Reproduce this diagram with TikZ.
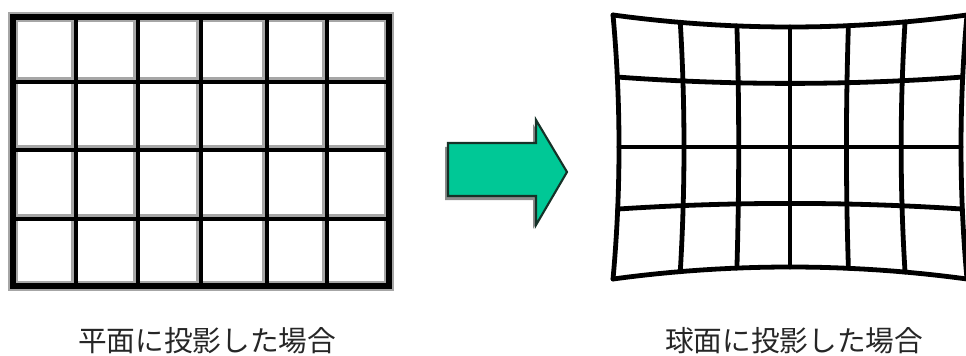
\documentclass[tikz,border=0pt]{standalone}
\usepackage{fontspec}
\newfontfamily\cjk{Noto Sans CJK JP}
\definecolor{arrowfill}{HTML}{00C896}
\definecolor{arrowedge}{HTML}{163228}
\begin{document}
\begin{tikzpicture}[x=0.75pt,y=-0.75pt,
  fhalo/.style={draw=black!35,line width=7pt,line join=miter},
  frame/.style={draw=black,line width=4.6pt,line join=miter},
  lhalo/.style={draw=black!35,line width=5pt,line cap=rect},
  lline/.style={draw=black,line width=3.4pt,line cap=rect},
  rline/.style={draw=black,line width=3.6pt,line cap=round},
  lbl/.style={font=\cjk\fontsize{21.5}{26}\selectfont,text=black!85,inner sep=0pt}]
\useasboundingbox (0,0) rectangle (966,356);
% ---- left: flat projection grid ----
\foreach \x in {76,138,201,267,327} {\draw[lhalo] (\x-1.5,17) -- (\x-1.5,286);}
\foreach \y in {82,150,219} {\draw[lhalo] (13,\y-1.5) -- (389,\y-1.5);}
\draw[fhalo] (13,17) rectangle (389,286);
\foreach \x in {76,138,201,267,327} {\draw[lline] (\x,17) -- (\x,286);}
\foreach \y in {82,150,219} {\draw[lline] (13,\y) -- (389,\y);}
\draw[frame] (13,17) rectangle (389,286);
% ---- arrow ----
\fill[black!45] (445,147) -- (533,147) -- (533,124) -- (564,176) -- (533,229) -- (533,200) -- (445,200) -- cycle;
\draw[draw=arrowedge,fill=arrowfill,line width=1.6pt,line join=miter]
  (448,143) -- (536,143) -- (536,120) -- (567,172) -- (536,225) -- (536,196) -- (448,196) -- cycle;
% ---- right: spherical projection grid ----
\foreach \u in {-1,-0.62,-0.3,0,0.33,0.65,1} {
  \draw[rline] plot[domain=-1:1,samples=25,variable=\s]
    ({790+(\u)*171*(1+0.035*(\s)*(\s))},{147+(\s)*120*(1+0.1*(\u)*(\u))});
}
\foreach \v in {-1,-0.53,0,0.47,1} {
  \draw[rline] plot[domain=-1:1,samples=25,variable=\s]
    ({790+(\s)*171*(1+0.035*(\v)*(\v))},{147+(\v)*120*(1+0.1*(\s)*(\s))});
}
% ---- captions ----
\node[lbl] (t1) at (207,341) {平面に投影した場合};
\node[lbl] (t2) at (794,341) {球面に投影した場合};
\end{tikzpicture}
\end{document}
